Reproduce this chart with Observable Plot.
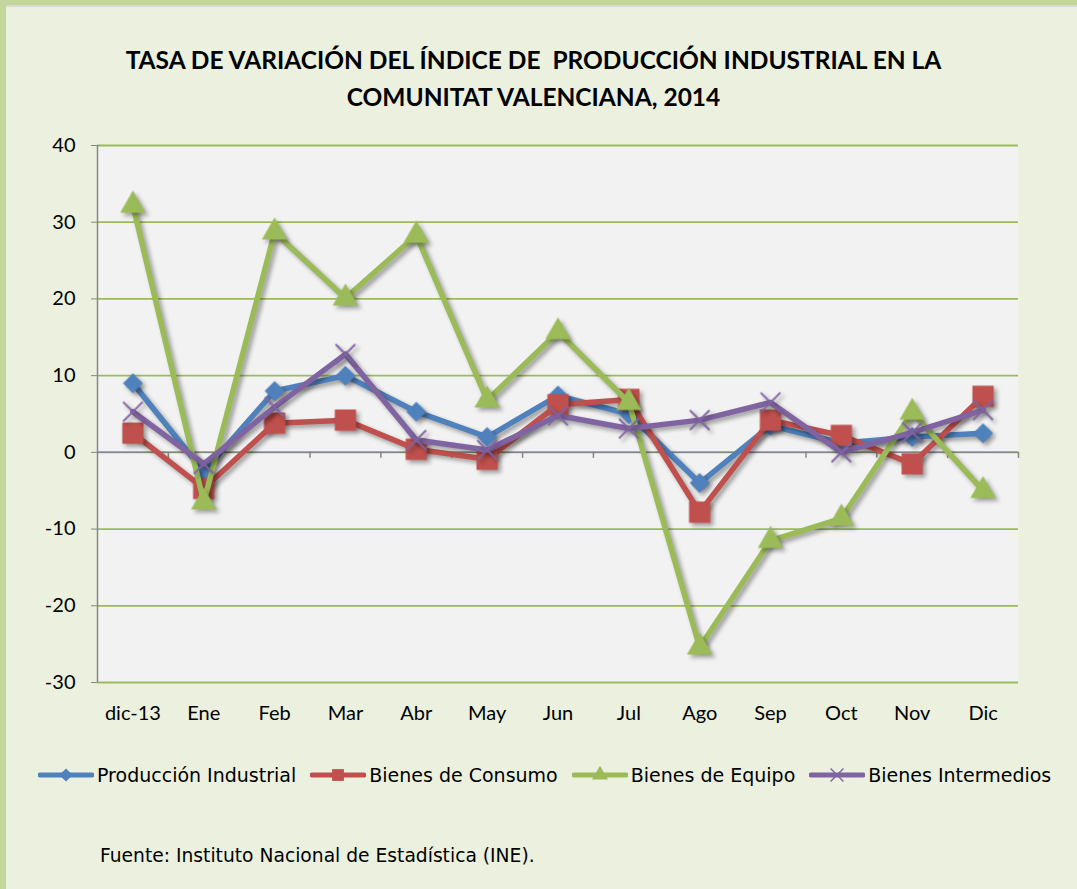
<!DOCTYPE html>
<html><head><meta charset="utf-8">
<script src="https://cdn.jsdelivr.net/npm/d3@7"></script>
<script src="https://cdn.jsdelivr.net/npm/@observablehq/plot@0.6"></script>
<style>
body{margin:0;background:#ebf1de;}
#page{position:relative;width:1077px;height:889px;background:#ebf1de;overflow:hidden;}
#bt{position:absolute;left:0;top:0;width:1077px;height:5px;background:#c3d69b;border-bottom:2px solid #d9dcd2;}
#bl{position:absolute;left:0;top:0;width:6px;height:889px;background:#c3d69b;}
#title{position:absolute;left:0;width:1067px;top:41px;text-align:center;font-family:Lato,"Open Sans",sans-serif;font-weight:700;font-size:24.5px;line-height:37px;color:#000;}
#chart{position:absolute;left:0;top:130px;}
#legend{position:absolute;top:764px;left:38px;display:flex;align-items:center;font-family:"DejaVu Sans",sans-serif;font-size:19px;color:#000;white-space:nowrap;}
#legend .it{display:flex;align-items:center;margin-right:14px;}
#legend svg{margin-right:3px;}
#caption{position:absolute;left:100px;top:845px;font-family:"DejaVu Sans",sans-serif;font-size:18.7px;color:#000;}
#chart g[aria-label="line"]{filter:drop-shadow(3px 3px 2px rgba(0,0,0,0.35));}
#chart g[aria-label="dot"]{filter:drop-shadow(3px 3px 2px rgba(0,0,0,0.35));}
</style></head>
<body>
<div id="page">
<div id="bt"></div><div id="bl"></div>
<div id="title">TASA DE VARIACIÓN DEL ÍNDICE DE&nbsp; PRODUCCIÓN INDUSTRIAL EN LA<br>COMUNITAT VALENCIANA, 2014</div>
<div id="chart"></div>
<div id="legend"></div>
<div id="caption">Fuente: Instituto Nacional de Estadística (INE).</div>
</div>
<script>
const categories = ["dic-13","Ene","Feb","Mar","Abr","May","Jun","Jul","Ago","Sep","Oct","Nov","Dic"];
const seriesNames = ["Producción Industrial","Bienes de Consumo","Bienes de Equipo","Bienes Intermedios"];
const produccionIndustrial = [9.0,-2.5,8.0,10.0,5.3,2.0,7.4,5.0,-4.0,3.5,1.2,2.0,2.5];
const bienesConsumo = [2.5,-4.7,3.8,4.2,0.4,-0.9,6.2,6.9,-7.8,4.2,2.2,-1.5,7.3];
const bienesEquipo = [32.2,-6.5,28.7,20.1,28.3,6.8,15.7,6.5,-25.4,-11.5,-8.6,5.2,-5.0];
const bienesIntermedios = [5.3,-1.5,5.9,12.8,1.6,0.3,4.8,3.1,4.2,6.5,0.0,2.6,5.5];
const yTicks = [-30,-20,-10,0,10,20,30,40];

const seriesValues = [produccionIndustrial, bienesConsumo, bienesEquipo, bienesIntermedios];
const styles = [
  {color:"#4f81bd", symbol:"diamond2", r:9},
  {color:"#c0504d", symbol:"square", r:12},
  {color:"#9bbb59", symbol:"triangle", r:9.5},
  {color:"#8064a2", symbol:"times", r:9}
];
const idx = d3.range(categories.length);
const bounds = idx.map(i => i + 0.5);

const marks = [
  Plot.frame({fill:"#f2f2f2", stroke:"none"}),
  Plot.ruleY(yTicks, {stroke:"#9bbb59", strokeWidth:1.8}),
  Plot.ruleX([-0.5], {stroke:"#868686", strokeWidth:1.5}),
  Plot.ruleY([0], {stroke:"#868686", strokeWidth:1.5}),
  Plot.ruleX(bounds, {y1:0, y2:0, insetBottom:-6, stroke:"#868686", strokeWidth:1.5}),
  Plot.axisY({ticks:yTicks, tickSize:6, tickPadding:16, stroke:"#868686", fill:"#000", fontSize:20, label:null, tickFormat:d => String(d)}),
  Plot.axisX({ticks:idx, tickSize:0, tickPadding:23, tickFormat:i=>categories[i], fontSize:20, label:null, fill:"#000"})
];
seriesValues.forEach((vals, s) => {
  const rows = vals.map((v, i) => ({i, v}));
  const st = styles[s];
  marks.push(Plot.line(rows, {x:"i", y:"v", stroke:st.color, strokeWidth:5.5, strokeLinejoin:"round"}));
  if (st.symbol === "times") {
    marks.push(Plot.dot(rows, {x:"i", y:"v", symbol:"times", r:st.r, stroke:st.color, strokeWidth:2}));
  } else {
    marks.push(Plot.dot(rows, {x:"i", y:"v", symbol:st.symbol, r:st.r, fill:st.color, stroke:"none"}));
  }
});

const chart = Plot.plot({
  width:1077, height:610,
  marginLeft:97, marginRight:59, marginTop:15, marginBottom:58,
  style:{background:"transparent", fontFamily:"Lato, 'Open Sans', sans-serif", color:"#000"},
  x:{type:"linear", domain:[-0.5, categories.length - 0.5]},
  y:{domain:[yTicks[0], yTicks[yTicks.length-1]]},
  marks
});
document.getElementById("chart").appendChild(chart);

// legend
const legend = document.getElementById("legend");
const ns = "http://www.w3.org/2000/svg";
seriesNames.forEach((name, s) => {
  const st = styles[s];
  const it = document.createElement("div"); it.className = "it";
  const svg = document.createElementNS(ns, "svg");
  svg.setAttribute("width", 56); svg.setAttribute("height", 20);
  const ln = document.createElementNS(ns, "line");
  ln.setAttribute("x1", 2); ln.setAttribute("x2", 54); ln.setAttribute("y1", 10); ln.setAttribute("y2", 10);
  ln.setAttribute("stroke", st.color); ln.setAttribute("stroke-width", 5); ln.setAttribute("stroke-linecap","round");
  svg.appendChild(ln);
  const p = document.createElementNS(ns, "path");
  const sym = {diamond2:d3.symbolDiamond2, square:d3.symbolSquare, triangle:d3.symbolTriangle, times:d3.symbolTimes}[st.symbol];
  p.setAttribute("d", d3.symbol(sym, st.symbol==="square"?140:110)());
  p.setAttribute("transform", "translate(28,10)");
  if (st.symbol === "times") { p.setAttribute("fill","none"); p.setAttribute("stroke", st.color); p.setAttribute("stroke-width", 1.5); }
  else p.setAttribute("fill", st.color);
  svg.appendChild(p);
  it.appendChild(svg);
  const t = document.createElement("span"); t.textContent = name;
  it.appendChild(t);
  legend.appendChild(it);
});
</script>
</body></html>
